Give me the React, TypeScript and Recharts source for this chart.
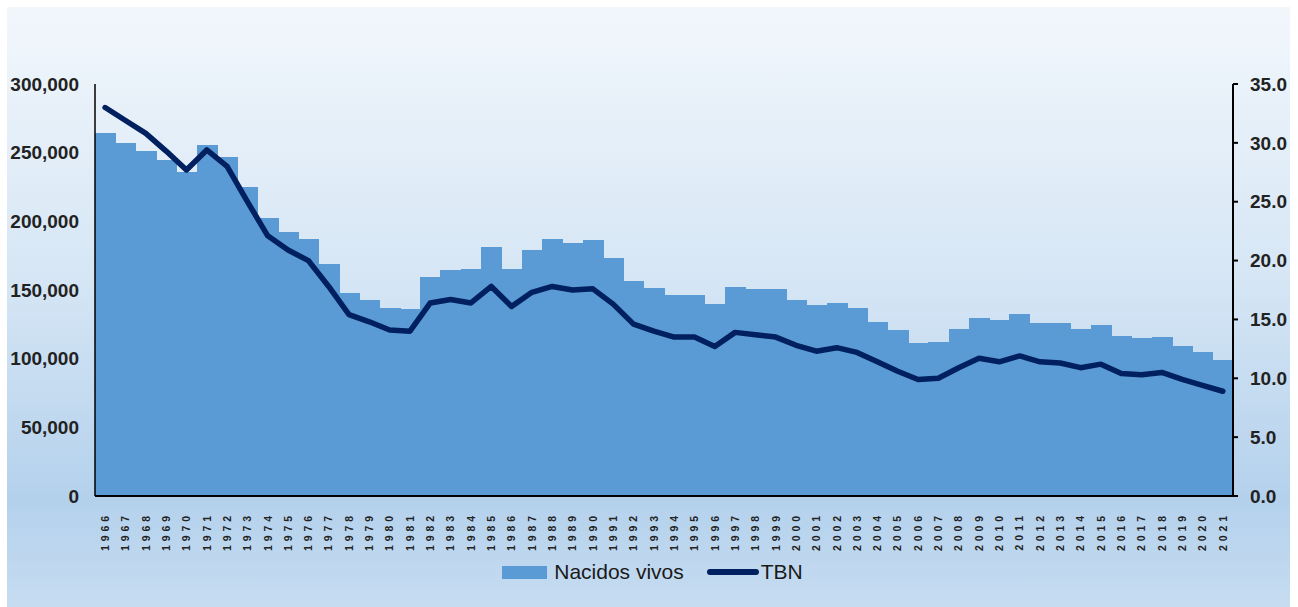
import React from 'react';
import { ComposedChart, Bar, Line, XAxis, YAxis, Legend } from 'recharts';

const years = ['1966','1967','1968','1969','1970','1971','1972','1973','1974','1975','1976','1977','1978','1979','1980','1981','1982','1983','1984','1985','1986','1987','1988','1989','1990','1991','1992','1993','1994','1995','1996','1997','1998','1999','2000','2001','2002','2003','2004','2005','2006','2007','2008','2009','2010','2011','2012','2013','2014','2015','2016','2017','2018','2019','2020','2021'];

const nacidosVivos = [264000,257000,251000,245000,236000,255800,246800,225200,202400,192200,
  187300,168700,147800,142700,136600,135900,159700,164500,165500,181300,
  165500,179300,187100,184400,186100,173500,156500,151400,146300,146300,
  139500,152400,150700,150700,142700,138800,140500,136600,126900,120800,
  111100,111900,121800,129800,127900,132700,125700,125700,121800,124500,
  116700,115300,116000,109000,104800,98800];

const tbn = [33.0,31.9,30.8,29.3,27.7,29.4,28.0,25.0,22.1,20.9,
  20.0,17.8,15.4,14.8,14.1,14.0,16.4,16.7,16.4,17.8,
  16.1,17.3,17.8,17.5,17.6,16.3,14.6,14.0,13.5,13.5,
  12.7,13.9,13.7,13.5,12.8,12.3,12.6,12.2,11.4,10.6,
  9.9,10.0,10.9,11.7,11.4,11.9,11.4,11.3,10.9,11.2,
  10.4,10.3,10.5,9.9,9.4,8.9];

const leftTicks = [0,50000,100000,150000,200000,250000,300000];
const rightTicks = [0,5,10,15,20,25,30,35];

const data = years.map((y, i) => ({ year: y, nacidos: nacidosVivos[i], tbn: tbn[i] }));

const FONT = '"Liberation Sans", Arial, sans-serif';
const BAR = '#5B9BD5';
const LINE = '#002060';

const YearTick = (props: any) => {
  const { x, y, payload } = props;
  const ls = 3.9;
  return (
    <g transform={`translate(${x},${y})`}>
      <text transform="rotate(-90)" x={-12 + ls} y={0} dy="0.36em" textAnchor="end"
        fontFamily={FONT} fontWeight="bold" fontSize={10.5} fill="#222" letterSpacing={ls}>
        {payload.value}
      </text>
    </g>
  );
};

const SeamlessBar = (props: any) => {
  const { x, y, width, height, fill, index } = props;
  const last = index === years.length - 1;
  const x0 = Math.round(x);
  const x1 = Math.round(x + width) + (last ? 0 : 1);
  const y0 = Math.round(y);
  const y1 = Math.round(y + height);
  return <rect x={x0} y={y0} width={x1 - x0} height={y1 - y0} fill={fill} shapeRendering="crispEdges" />;
};

const LegendContent = () => (
  <div style={{ height: 50, display: 'flex', justifyContent: 'center', paddingLeft: 8, fontFamily: FONT, fontSize: 21, color: '#1a1a1a' }}>
    <div style={{ display: 'flex', alignItems: 'center', height: 30, marginTop: 0 }}>
      <div style={{ width: 45, height: 13, background: BAR, marginRight: 7 }} />
      <span>Nacidos vivos</span>
      <div style={{ width: 52, height: 6, borderRadius: 3, background: LINE, marginLeft: 23, marginRight: 2 }} />
      <span>TBN</span>
    </div>
  </div>
);

export default function App() {
  return (
    <div style={{ position: 'fixed', left: 7, top: 7, width: 1283, height: 600,
      background: 'linear-gradient(to bottom, #F2F7FC 0%, #D6E6F5 45%, #B4D1EC 82%, #C6DCF1 100%)' }}>
      <ComposedChart width={1283} height={600} data={data}
        margin={{ top: 77, right: 0, left: 0, bottom: 0 }} barCategoryGap={0} barGap={0}>
        <XAxis dataKey="year" interval={0} tickLine={false} height={61}
          axisLine={{ stroke: '#000', strokeWidth: 2 }} tick={<YearTick />} />
        <YAxis yAxisId="left" width={88} domain={[0, 300000]} ticks={leftTicks}
          tickLine={false} tickSize={0} tickMargin={16}
          axisLine={{ stroke: '#000', strokeWidth: 1.5 }}
          tick={{ fontFamily: FONT, fontWeight: 'bold', fontSize: 19, fill: '#222' }}
          tickFormatter={(v: number) => v.toLocaleString('en-US')} />
        <YAxis yAxisId="right" orientation="right" width={57} domain={[0, 35]} ticks={rightTicks}
          tickSize={5} tickMargin={12}
          tickLine={{ stroke: '#000', strokeWidth: 2 }}
          axisLine={{ stroke: '#000', strokeWidth: 2 }}
          tick={{ fontFamily: FONT, fontWeight: 'bold', fontSize: 19, fill: '#222', textAnchor: 'start' }}
          tickFormatter={(v: number) => v.toFixed(1)} />
        <Bar yAxisId="left" dataKey="nacidos" name="Nacidos vivos" fill={BAR} shape={<SeamlessBar />} isAnimationActive={false} />
        <Line yAxisId="right" dataKey="tbn" name="TBN" type="linear" stroke={LINE} strokeWidth={5.5}
          strokeLinecap="round" strokeLinejoin="round" dot={false} activeDot={false} isAnimationActive={false} />
        <Legend verticalAlign="bottom" content={<LegendContent />} />
      </ComposedChart>
    </div>
  );
}
